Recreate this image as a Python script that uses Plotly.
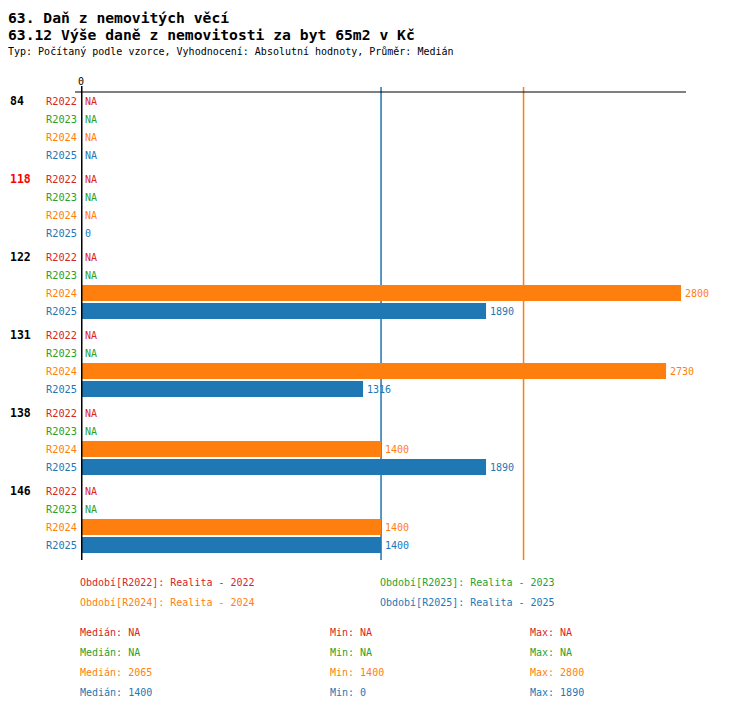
import statistics
import plotly.graph_objects as go

# data
groups = ["84", "118", "122", "131", "138", "146"]
highlight_group = "118"
periods = ["R2022", "R2023", "R2024", "R2025"]
period_names = ["Realita - 2022", "Realita - 2023", "Realita - 2024", "Realita - 2025"]
colors = ["#d62728", "#2ca02c", "#ff7f0e", "#1f77b4"]

r2022 = [None, None, None, None, None, None]
r2023 = [None, None, None, None, None, None]
r2024 = [None, None, 2800, 2730, 1400, 1400]
r2025 = [None, 0, 1890, 1316, 1890, 1400]
series = [r2022, r2023, r2024, r2025]

title1 = "63. Daň z nemovitých věcí"
title2 = "63.12 Výše daně z nemovitosti za byt 65m2 v Kč"
subtitle = "Typ: Počítaný podle vzorce, Vyhodnocení: Absolutní hodnoty, Průměr: Medián"

FONT = "DejaVu Sans Mono"
OFF = 8                       # page margin of the html body
WIDTH, HEIGHT = 750 - OFF, 710 - OFF
L, T, W, H = 81 - OFF, 92 - OFF, 605, 468   # plot area in figure pixels
ROW, GROUP = 18, 78
X_MAX = 2823


# page pixel -> paper coords
def px(x):
    return (x - OFF - L) / W


def py(y):
    return (T + H - (y - OFF)) / H


def fmt(v):
    return "NA" if v is None else f"{v:g}"


def stats(vals):
    v = [x for x in vals if x is not None]
    if not v:
        return None, None, None
    return statistics.median(v), min(v), max(v)


fig = go.Figure()
annotations = []

for pi, (name, vals, col) in enumerate(zip(periods, series, colors)):
    ys = [gi * GROUP + pi * ROW for gi in range(len(groups))]
    bx = [v for v in vals if v is not None]
    by = [y for v, y in zip(vals, ys) if v is not None]
    fig.add_trace(go.Bar(x=bx, y=by, orientation="h", width=16,
                         marker=dict(color=col, line=dict(width=0)),
                         showlegend=False, hoverinfo="skip"))
    for v, y in zip(vals, ys):
        # value label right of the bar end (or of the zero line for NA)
        annotations.append(dict(x=0 if v is None else v, xref="x", y=y, yref="y",
                                text=fmt(v), xanchor="left", yanchor="middle",
                                xshift=2, showarrow=False,
                                font=dict(family=FONT, size=10, color=col)))
        annotations.append(dict(x=0, xref="paper", y=y, yref="y", text=name,
                                xanchor="right", yanchor="middle", xshift=-2,
                                showarrow=False,
                                font=dict(family=FONT, size=10.3, color=col)))

for gi, g in enumerate(groups):
    annotations.append(dict(x=px(8), xref="paper", y=gi * GROUP, yref="y",
                            text=f"<b>{g}</b>", xanchor="left", yanchor="middle",
                            showarrow=False,
                            font=dict(family=FONT, size=11.5,
                                      color="#ff0000" if g == highlight_group else "black")))

# titles (nothing can sit above the figure's top edge, so title1 hugs it)
annotations.append(dict(x=px(OFF - 1), xref="paper", y=py(OFF), yref="paper",
                        text=f"<b>{title1}</b>", xanchor="left", yanchor="top",
                        borderpad=0, showarrow=False,
                        font=dict(family=FONT, size=14.7, color="black")))
annotations.append(dict(x=px(OFF - 1), xref="paper", y=py(34), yref="paper",
                        text=f"<b>{title2}</b>", xanchor="left", yanchor="middle",
                        borderpad=0, showarrow=False,
                        font=dict(family=FONT, size=14.7, color="black")))
annotations.append(dict(x=px(OFF - 1), xref="paper", y=py(51), yref="paper",
                        text=subtitle, xanchor="left", yanchor="middle",
                        borderpad=0, showarrow=False,
                        font=dict(family=FONT, size=10, color="black")))

# period legend
leg_pos = [(78, 582), (378, 582), (78, 602), (378, 602)]
for (lx, ly), name, pname, col in zip(leg_pos, periods, period_names, colors):
    annotations.append(dict(x=px(lx), xref="paper", y=py(ly), yref="paper",
                            text=f"Období[{name}]: {pname}", xanchor="left",
                            yanchor="middle", showarrow=False,
                            font=dict(family=FONT, size=10, color=col)))

# summary statistics
medians = []
for si, (vals, col) in enumerate(zip(series, colors)):
    med, mn, mx = stats(vals)
    medians.append(med)
    ly = 632 + si * 20
    for lx, label, v in [(78, "Medián", med), (328, "Min", mn), (528, "Max", mx)]:
        annotations.append(dict(x=px(lx), xref="paper", y=py(ly), yref="paper",
                                text=f"{label}: {fmt(v)}", xanchor="left",
                                yanchor="middle", showarrow=False,
                                font=dict(family=FONT, size=10, color=col)))

shapes = []
# median lines
for med, col in zip(medians, colors):
    if med is not None:
        shapes.append(dict(type="line", x0=med, x1=med, xref="x", y0=0, y1=1 + 5 / H,
                           yref="paper", line=dict(color=col, width=1.5), layer="below"))
# top axis line and zero line
shapes.append(dict(type="line", x0=px(75), x1=1, xref="paper", y0=1, y1=1, yref="paper",
                   line=dict(color="black", width=1)))
shapes.append(dict(type="line", x0=0, x1=0, xref="x", y0=0, y1=1 + 6 / H, yref="paper",
                   line=dict(color="black", width=3)))

fig.update_layout(
    width=WIDTH, height=HEIGHT,
    margin=dict(l=L, r=WIDTH - L - W, t=T, b=HEIGHT - T - H, pad=0),
    paper_bgcolor="white", plot_bgcolor="white",
    barmode="overlay",
    xaxis=dict(range=[0, X_MAX], side="top", tickvals=[0], ticktext=["0"],
               showgrid=False, zeroline=False, showline=False, ticks="",
               ticklabelstandoff=4,
               tickfont=dict(family=FONT, size=10, color="black"), fixedrange=True),
    yaxis=dict(range=[H - 9, -9], showticklabels=False, showgrid=False,
               zeroline=False, showline=False, ticks="", fixedrange=True),
    annotations=annotations, shapes=shapes,
    font=dict(family=FONT),
)

fig.write_html("out.html")
